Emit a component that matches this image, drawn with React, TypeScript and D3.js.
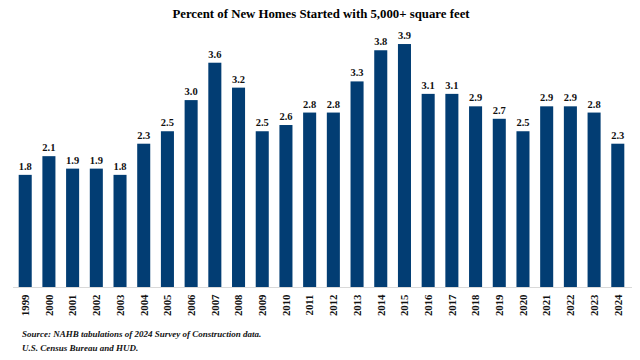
import React from "react";
import * as d3 from "d3";

const years = ["1999","2000","2001","2002","2003","2004","2005","2006","2007","2008","2009","2010","2011","2012","2013","2014","2015","2016","2017","2018","2019","2020","2021","2022","2023","2024"];
const values = [1.8,2.1,1.9,1.9,1.8,2.3,2.5,3.0,3.6,3.2,2.5,2.6,2.8,2.8,3.3,3.8,3.9,3.1,3.1,2.9,2.7,2.5,2.9,2.9,2.8,2.3];
const title = "Percent of New Homes Started with 5,000+ square feet";
const sourceLines = ["Source: NAHB tabulations of 2024 Survey of Construction data.", "U.S. Census Bureau and HUD."];

export default function App() {
  const W = 640, H = 360;
  const x = d3.scaleBand<string>().domain(years).range([13, 630]).paddingInner(0.45).paddingOuter(0.24);
  const y = d3.scaleLinear().domain([0, 4]).range([287, 37.8]);
  const serif = "'Liberation Serif', 'Times New Roman', serif";
  const fmt = d3.format(".1f");
  return (
    <svg width={W} height={H} style={{ position: "absolute", left: 0, top: 0, background: "#fff" }} fontFamily={serif}>
      <text x={321} y={18} textAnchor="middle" fontSize={12.8} fontWeight="bold" fill="#000">{title}</text>
      {years.map((yr, i) => (
        <g key={yr}>
          <rect x={x(yr)} y={y(values[i])} width={x.bandwidth()} height={y(0) - y(values[i])} fill="#023d73" />
          <text x={(x(yr) as number) + x.bandwidth() / 2} y={y(values[i]) - 5} textAnchor="middle" fontSize={10.5} fontWeight="bold" fill="#111">{fmt(values[i])}</text>
          <text transform={`translate(${(x(yr) as number) + x.bandwidth() / 2 + 3.8},294.5) rotate(-90)`} textAnchor="end" fontSize={10.8} fontWeight="bold" fill="#111">{yr}</text>
        </g>
      ))}
      <line x1={13} x2={632} y1={287.5} y2={287.5} stroke="#d9d9d9" strokeWidth={1} />
      {sourceLines.map((s, i) => (
        <text key={i} x={22} y={337 + i * 14} fontSize={9} fontWeight="bold" fontStyle="italic" fill="#111">{s}</text>
      ))}
    </svg>
  );
}
